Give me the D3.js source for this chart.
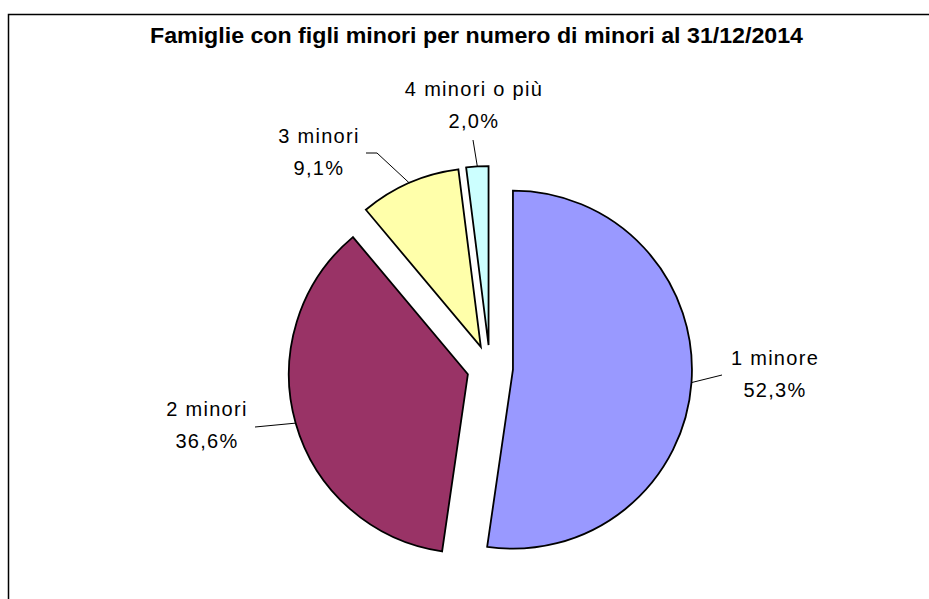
<!DOCTYPE html>
<html lang="it">
  <head>
    <meta charset="UTF-8" />
    <title>Famiglie con figli minori</title>
    <script src="https://cdn.jsdelivr.net/npm/d3@7"></script>
    <style>
      body {
        margin: 0;
        background-color: #fff;
        font-family: 'Liberation Sans', Arial, sans-serif;
      }
      .label {
        font-size: 20px;
        letter-spacing: 1.3px;
        fill: #000;
      }
      .leader {
        stroke: #000;
        stroke-width: 1;
        fill: none;
      }
    </style>
  </head>
  <body>
    <svg width="929" height="599"></svg>

    <script>
      const title = 'Famiglie con figli minori per numero di minori al 31/12/2014';
      const categories = ['1 minore', '2 minori', '3 minori', '4 minori o più'];
      const values = [52.3, 36.6, 9.1, 2.0];
      const valueLabels = ['52,3%', '36,6%', '9,1%', '2,0%'];
      const colors = ['#9999ff', '#993366', '#ffffaa', '#ccffff'];

      // label placement: end of leader line, text centre, first baseline
      const labelLayout = [
        { end: [[722, 375]], tx: 775, ty: 365 },
        { end: [[255, 427]], tx: 207, ty: 416 },
        { end: [[377, 153], [366, 153]], tx: 319, ty: 143 },
        { end: [[473, 140]], tx: 474, ty: 96 }
      ];

      const svg = d3.select('svg');
      const cx = 490;
      const cy = 368;
      const radius = 179;
      const explode = 23;

      // frame
      svg
        .append('rect')
        .attr('x', 8.5)
        .attr('y', 14.5)
        .attr('width', 1000)
        .attr('height', 1000)
        .attr('fill', 'none')
        .attr('stroke', '#000')
        .attr('stroke-width', 1.5);

      svg
        .append('text')
        .attr('x', 476.5)
        .attr('y', 43)
        .attr('text-anchor', 'middle')
        .attr('font-size', 22)
        .attr('font-weight', 'bold')
        .attr('textLength', 653)
        .attr('lengthAdjust', 'spacingAndGlyphs')
        .text(title);

      const data = categories.map((c, i) => ({ name: c, value: values[i], label: valueLabels[i], i }));

      const pie = d3
        .pie()
        .sort(null)
        .value((d) => d.value)
        .startAngle(0)
        .endAngle(2 * Math.PI);

      const arc = d3.arc().innerRadius(0).outerRadius(radius);
      const edgeArc = d3.arc().innerRadius(radius).outerRadius(radius);

      const arcs = pie(data);

      const g = svg.append('g').attr('transform', `translate(${cx},${cy})`);

      const offset = (d) => {
        const mid = (d.startAngle + d.endAngle) / 2;
        return [explode * Math.sin(mid), -explode * Math.cos(mid)];
      };

      g.selectAll('.slice')
        .data(arcs)
        .enter()
        .append('path')
        .attr('class', 'slice')
        .attr('d', arc)
        .attr('transform', (d) => `translate(${offset(d)})`)
        .attr('fill', (d) => colors[d.data.i])
        .attr('stroke', '#000')
        .attr('stroke-width', 1.8)
        .attr('stroke-linejoin', 'miter');

      // leader lines and labels
      arcs.forEach((d) => {
        const [ox, oy] = offset(d);
        const [ex, ey] = edgeArc.centroid(d);
        const lay = labelLayout[d.data.i];
        const pts = [[cx + ox + ex, cy + oy + ey]].concat(lay.end);
        svg.append('path').attr('class', 'leader').attr('d', d3.line()(pts));

        const t = svg
          .append('text')
          .attr('class', 'label')
          .attr('text-anchor', 'middle')
          .attr('x', lay.tx)
          .attr('y', lay.ty);
        t.append('tspan').attr('x', lay.tx).text(d.data.name);
        t.append('tspan').attr('x', lay.tx).attr('dy', 32).text(d.data.label);
      });
    </script>
  </body>
</html>
